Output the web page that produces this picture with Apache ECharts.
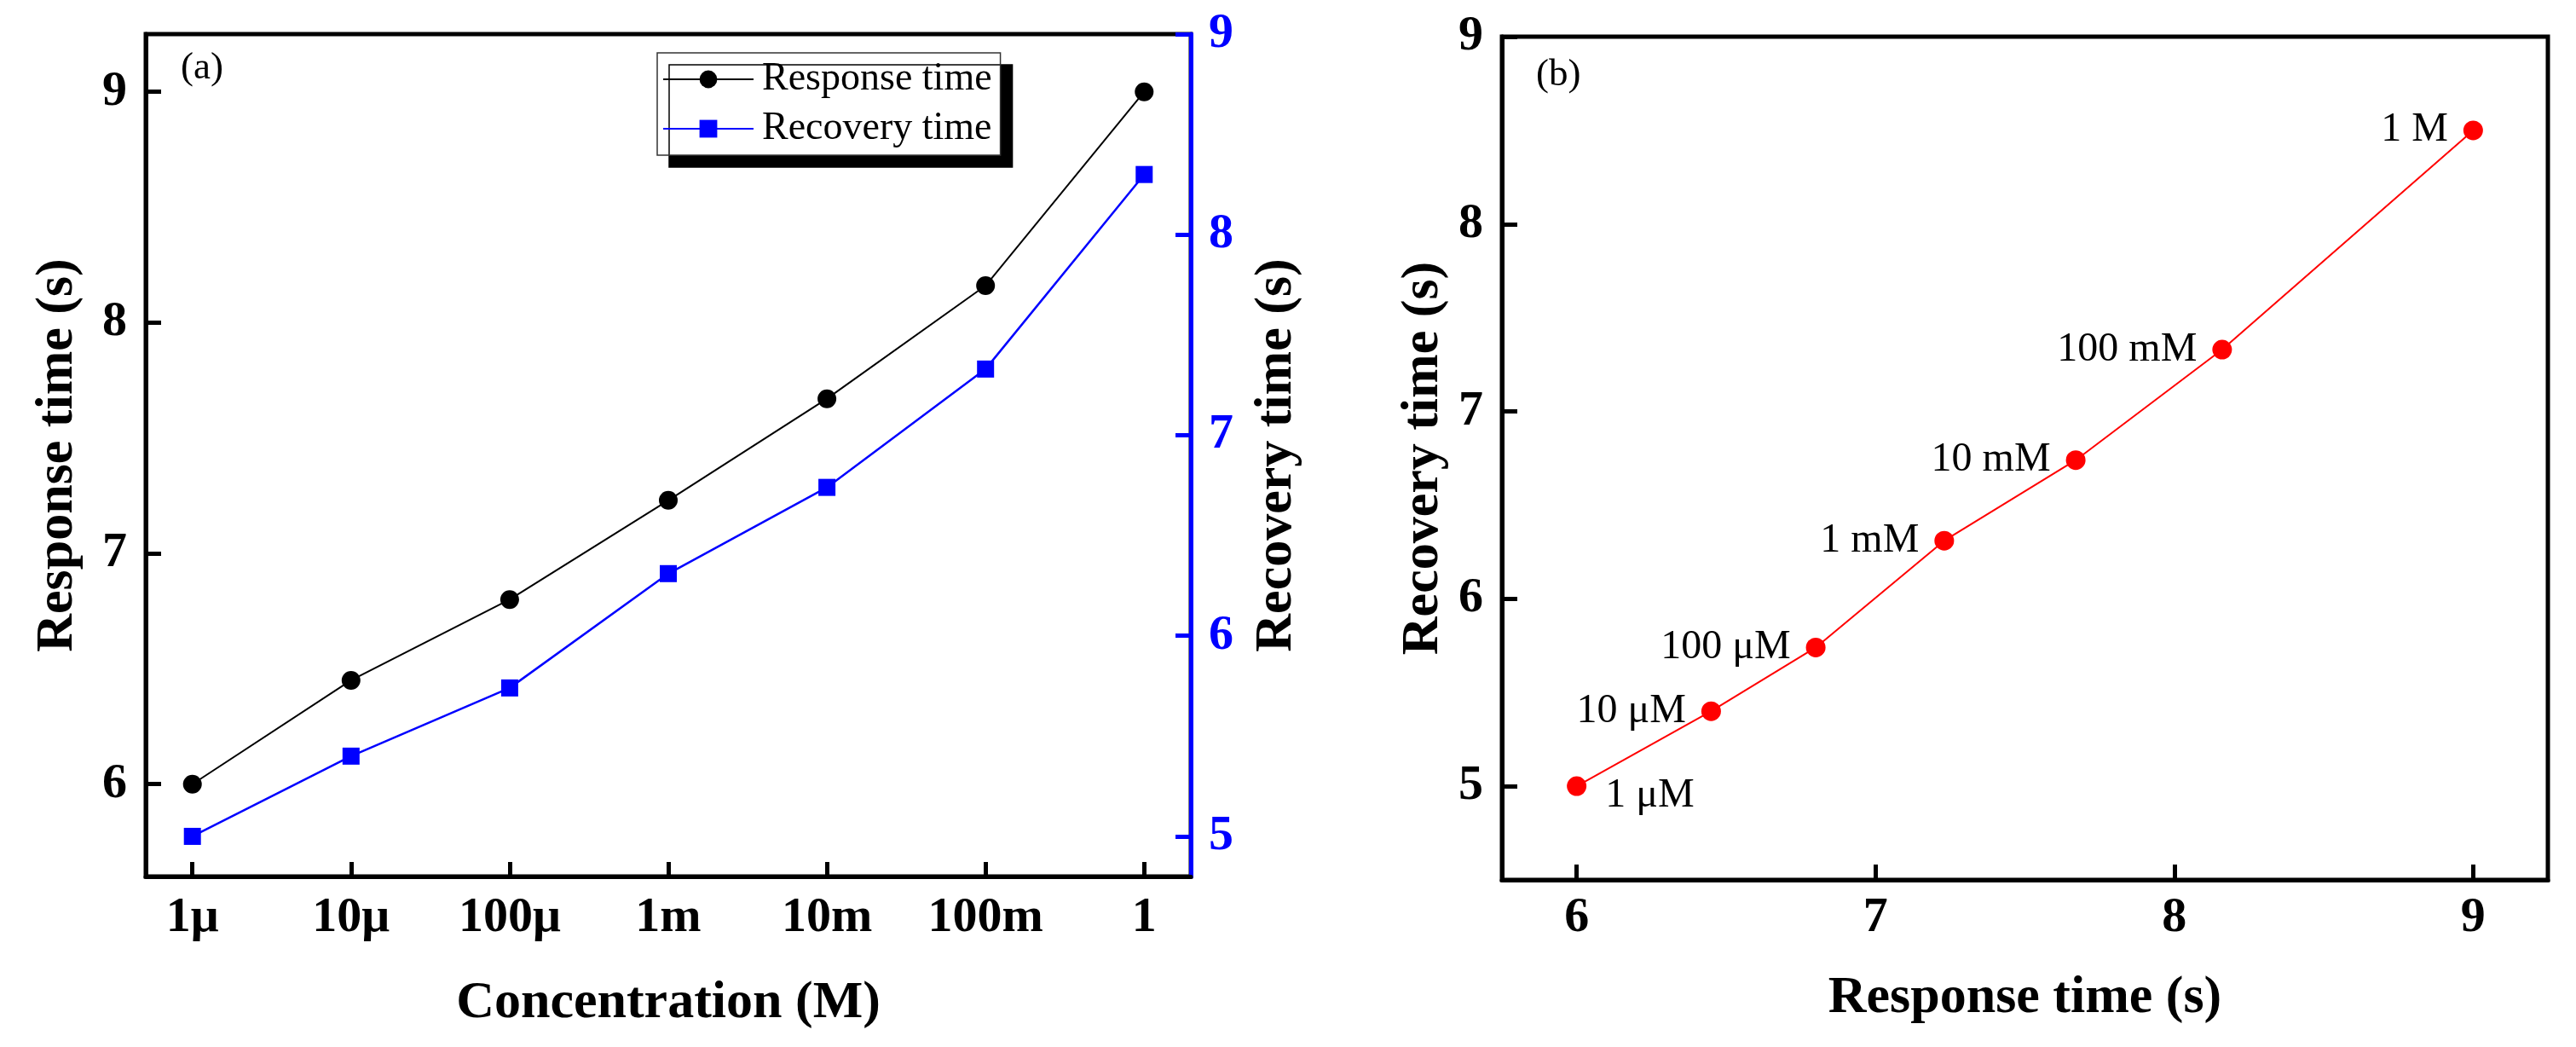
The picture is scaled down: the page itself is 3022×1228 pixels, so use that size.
<!DOCTYPE html>
<html><head><meta charset="utf-8">
<script src="https://cdn.jsdelivr.net/npm/echarts@6/dist/echarts.min.js"></script>
<style>html,body{margin:0;padding:0;background:#fff}#c{width:3022px;height:1228px}</style>
</head><body><div id="c"></div>
<script>
// ---- data ----
const concentrations = ['1μ', '10μ', '100μ', '1m', '10m', '100m', '1'];
const responseTime = [6.00, 6.45, 6.80, 7.23, 7.67, 8.16, 9.00];
const recoveryTimeA = [5.00, 5.40, 5.74, 6.31, 6.74, 7.33, 8.30];   // panel (a)
const recoveryTimeB = [5.00, 5.40, 5.74, 6.31, 6.74, 7.33, 8.50];   // panel (b)
const pointLabels = ['1 μM', '10 μM', '100 μM', '1 mM', '10 mM', '100 mM', '1 M'];
const seriesNames = ['Response time', 'Recovery time'];
const ticksRespA = [6, 7, 8, 9];
const ticksRecA = [5, 6, 7, 8, 9];
const ticksRespB = [6, 7, 8, 9];
const ticksRecB = [5, 6, 7, 8, 9];
const panelTags = ['(a)', '(b)'];

const FF = '"Liberation Serif", "Times New Roman", serif';
const BLUE = '#0000ff';
const catIdx = concentrations.map((_, i) => i);

function tickLabel(color, margin) {
  return { color: color, fontSize: 58, fontWeight: 'bold', fontFamily: FF, margin: margin };
}
function nameStyle() {
  return { color: '#000', fontSize: 62, fontWeight: 'bold', fontFamily: FF };
}
function line(color) { return { show: true, onZero: false, lineStyle: { color: color, width: 5 } }; }
function tick(color, len, vals) {
  return { show: true, inside: true, length: len, lineStyle: { color: color, width: 5 }, customValues: vals };
}

const chart = echarts.init(document.getElementById('c'), null, { renderer: 'canvas' });
chart.setOption({
  animation: false,
  backgroundColor: '#fff',
  grid: [
    { left: 171, top: 40, width: 1226, height: 988, show: true, borderColor: '#000', borderWidth: 5, backgroundColor: 'transparent' },
    { left: 1762, top: 43, width: 1227, height: 989, show: true, borderColor: '#000', borderWidth: 5, backgroundColor: 'transparent' }
  ],
  xAxis: [
    {
      gridIndex: 0, type: 'value', min: -0.294, max: 6.294,
      axisLine: line('#000'), axisTick: tick('#000', 17, catIdx),
      axisLabel: Object.assign(tickLabel('#000', 20), { customValues: catIdx, formatter: v => concentrations[Math.round(v)] }),
      splitLine: { show: false },
      name: 'Concentration (M)', nameLocation: 'middle', nameGap: 118, nameTextStyle: nameStyle()
    },
    {
      gridIndex: 1, type: 'value', min: 5.75, max: 9.25,
      axisLine: line('#000'), axisTick: tick('#000', 18, ticksRespB),
      axisLabel: Object.assign(tickLabel('#000', 16), { customValues: ticksRespB }),
      splitLine: { show: false },
      name: 'Response time (s)', nameLocation: 'middle', nameGap: 108, nameTextStyle: nameStyle()
    }
  ],
  yAxis: [
    {
      gridIndex: 0, type: 'value', position: 'left', min: 5.6, max: 9.25,
      axisLine: line('#000'), axisTick: tick('#000', 18, ticksRespA),
      axisLabel: Object.assign(tickLabel('#000', 22), { customValues: ticksRespA }),
      splitLine: { show: false },
      name: 'Response time (s)', nameLocation: 'middle', nameRotate: 90, nameGap: 72, nameTextStyle: nameStyle()
    },
    {
      gridIndex: 0, type: 'value', position: 'right', min: 4.8, max: 9,
      axisLine: line(BLUE), axisTick: tick(BLUE, 18, ticksRecA),
      axisLabel: Object.assign(tickLabel(BLUE, 21), { customValues: ticksRecA }),
      splitLine: { show: false },
      name: 'Recovery time (s)', nameLocation: 'middle', nameRotate: 90, nameGap: 70, nameTextStyle: nameStyle()
    },
    {
      gridIndex: 1, type: 'value', position: 'left', min: 4.5, max: 9,
      axisLine: line('#000'), axisTick: tick('#000', 18, ticksRecB),
      axisLabel: Object.assign(tickLabel('#000', 22), { customValues: ticksRecB }),
      splitLine: { show: false },
      name: 'Recovery time (s)', nameLocation: 'middle', nameRotate: 90, nameGap: 61, nameTextStyle: nameStyle()
    }
  ],
  legend: {
    data: seriesNames,
    orient: 'vertical', left: 771, top: 62,
    itemWidth: 106, itemHeight: 26, itemGap: 12,
    padding: [8, 10, 8, 6],
    textStyle: { color: '#000', fontSize: 46, fontFamily: FF, padding: [0, 0, 0, 5] },
    backgroundColor: '#fff', borderColor: '#333', borderWidth: 1.5,
    shadowColor: '#000', shadowBlur: 0, shadowOffsetX: 14, shadowOffsetY: 14
  },
  graphic: [
    { type: 'text', left: 212, top: 58, style: { text: panelTags[0], font: '45px ' + FF, fill: '#000' } },
    { type: 'text', left: 1802, top: 66, style: { text: panelTags[1], font: '45px ' + FF, fill: '#000' } }
  ],
  series: [
    {
      name: seriesNames[0], type: 'line', xAxisIndex: 0, yAxisIndex: 0,
      data: responseTime.map((v, i) => [i, v]),
      symbol: 'circle', symbolSize: 22,
      itemStyle: { color: '#000' }, lineStyle: { color: '#000', width: 2 }, z: 3
    },
    {
      name: seriesNames[1], type: 'line', xAxisIndex: 0, yAxisIndex: 1,
      data: recoveryTimeA.map((v, i) => [i, v]),
      symbol: 'rect', symbolSize: 20,
      itemStyle: { color: BLUE }, lineStyle: { color: BLUE, width: 2.5 }, z: 3
    },
    {
      name: 'Recovery vs response', type: 'line', xAxisIndex: 1, yAxisIndex: 2,
      data: responseTime.map((x, i) => {
        const item = { value: [x, recoveryTimeB[i]] };
        if (i === 0) item.label = { position: 'right', distance: 22, offset: [0, 11] };
        return item;
      }),
      symbol: 'circle', symbolSize: 23,
      itemStyle: { color: '#ff0000' }, lineStyle: { color: '#ff0000', width: 2 },
      label: {
        show: true, position: 'left', distance: 18,
        formatter: p => pointLabels[p.dataIndex],
        color: '#000', fontSize: 48, fontFamily: FF
      },
      z: 3
    }
  ]
});
</script></body></html>
